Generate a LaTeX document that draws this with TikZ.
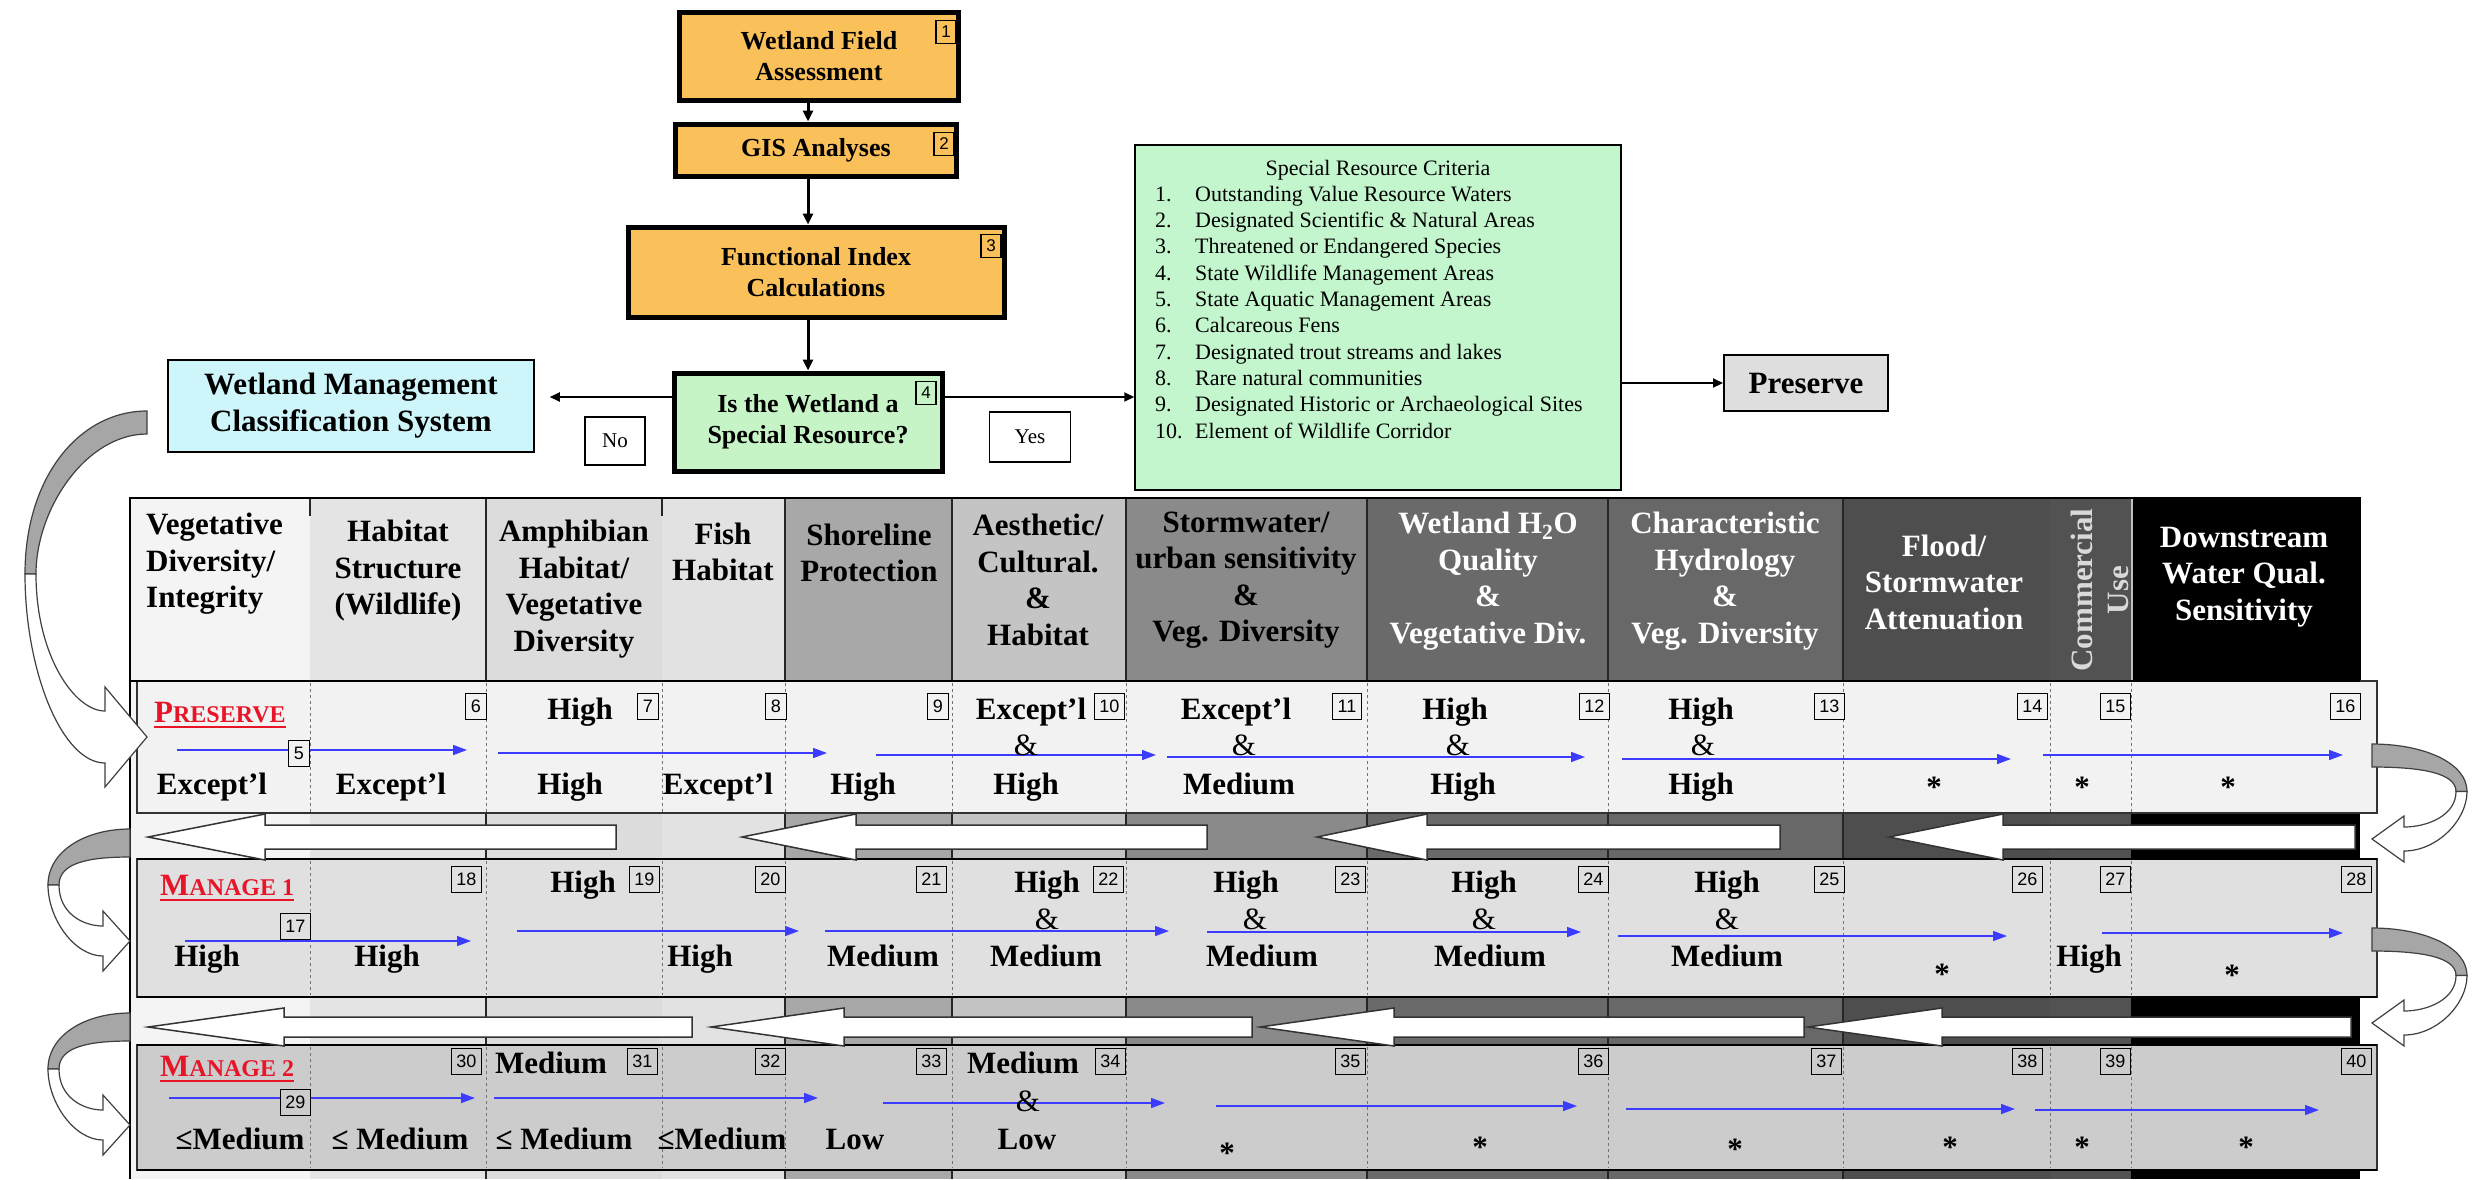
\documentclass[tikz,border=0pt]{standalone}
\usepackage{fontspec}
\setmainfont{Liberation Serif}
\newfontfamily\numfont{Liberation Sans}
\usetikzlibrary{arrows.meta}
\definecolor{orng}{RGB}{250,192,90}
\definecolor{gbox}{RGB}{198,244,198}
\definecolor{critc}{RGB}{196,246,206}
\definecolor{cyanb}{RGB}{206,246,250}
\definecolor{presb}{RGB}{222,222,222}
\definecolor{redt}{RGB}{232,20,40}
\definecolor{bluea}{RGB}{60,60,255}
\definecolor{rowp}{RGB}{242,242,242}
\definecolor{rowa}{RGB}{224,224,224}
\definecolor{rowb}{RGB}{204,204,204}
\tikzset{
 obox/.style={draw=black, line width=5pt, fill=orng, align=center, inner sep=0pt, font=\fontsize{26}{31}\selectfont\bfseries},
 markbox/.style={draw=black, line width=1.5pt, inner sep=0pt, minimum width=20pt, minimum height=23pt, font=\numfont\fontsize{17}{17}\selectfont},
 thinbox/.style={draw=black, line width=1.5pt, align=center, inner sep=0pt},
 conn/.style={line width=3pt, -{Triangle[length=11pt,width=10pt]}},
 conn2/.style={line width=2pt, -{Triangle[length=10pt,width=9pt]}},
 hdr/.style={align=center, inner sep=0pt, font=\fontsize{31}{36.5}\selectfont\bfseries},
 val/.style={inner sep=0pt, text height=21pt, text depth=7pt, font=\fontsize{31}{36}\selectfont\bfseries},
 numbox/.style={draw=black, line width=1.3pt, inner xsep=5pt, inner ysep=0pt, minimum height=26pt, minimum width=21pt, font=\numfont\fontsize{18}{18}\selectfont, anchor=north east},
 blarr/.style={draw=bluea, line width=1.5pt, -{Triangle[length=14pt,width=10pt]}},
 rowdiv/.style={draw=black!55, line width=0.8pt, dashed},
 coldiv/.style={draw=black!85, line width=1.5pt},
 critt/.style={inner sep=0pt, text height=15pt, text depth=5pt, font=\fontsize{22}{22}\selectfont},
 redlab/.style={anchor=base west, inner sep=0pt, text=redt, font=\bfseries}
}
% curved arrow: #1 x, #2 y (tail top), #3 xscale, #4 tail thickness, #5 bulge, #6 tip dy, #7 head half, #8 head length, #9 shaft half
\newcommand{\mycarrow}[9]{%
\begin{scope}[shift={(#1,#2)},xscale=#3]
\filldraw[fill=black!35, draw=black!75, line width=1.2pt]
 (0,0) .. controls ({-0.55*#5},0) and ({-#5},{0.2*#6}) .. ({-#5},{0.5*#6})
 -- ({-#5+11},{0.5*#6}) .. controls ({-#5+11},{0.3*#6}) and ({-0.5*#5},{#4}) .. (0,{#4}) -- cycle;
\filldraw[fill=white, draw=black!75, line width=1.2pt]
 ({-#5},{0.5*#6}) .. controls ({-#5},{0.8*#6}) and ({-#8-0.35*#5},{#6+#9}) .. ({-#8},{#6+#9})
 -- ({-#8},{#6+#7}) -- (0,{#6}) -- ({-#8},{#6-#7}) -- ({-#8},{#6-#9})
 .. controls ({-#8-0.25*#5},{#6-#9}) and ({-#5+11},{0.75*#6}) .. ({-#5+11},{0.5*#6}) -- cycle;
\end{scope}}
% block arrow pointing left: #1 tip x, #2 head base x, #3 end x, #4 mid y, #5 head half, #6 body half
\newcommand{\myblarrow}[6]{%
\filldraw[fill=white, draw=black!80, line width=1.5pt] (#1,#4) -- (#2,{#4-#5}) -- (#2,{#4-#6}) -- (#3,{#4-#6}) -- (#3,{#4+#6}) -- (#2,{#4+#6}) -- (#2,{#4+#5}) -- cycle;}
\begin{document}
\begin{tikzpicture}[x=1pt,y=-1pt]
\useasboundingbox[fill=white] (0,0) rectangle (2472,1179);

% ---------- flow chart ----------
\node[obox, minimum width=279pt, minimum height=88pt] (b1) at (819,56) {Wetland Field\\Assessment};
\node[obox, minimum width=281pt, minimum height=52pt] (b2) at (816,150) {GIS Analyses};
\node[obox, minimum width=376pt, minimum height=90pt] (b3) at (816,272) {Functional Index\\Calculations};
\node[obox, fill=gbox, minimum width=268pt, minimum height=98pt] (b4) at (808,422) {Is the Wetland a\\Special Resource?};
\node[markbox] (m1) at (946,32) {1};
\node[markbox] (m2) at (944,144) {2};
\node[markbox] (m3) at (991,246) {3};
\node[markbox] (m4) at (926,393) {4};
\node[thinbox, fill=cyanb, minimum width=366pt, minimum height=92pt, font=\fontsize{31}{37}\selectfont\bfseries] (wmcs) at (351,406) {Wetland Management\\Classification System};
\node[thinbox, fill=white, minimum width=60pt, minimum height=48pt, font=\fontsize{21}{21}\selectfont] (no) at (615,441) {No};
\node[thinbox, fill=white, minimum width=81pt, minimum height=50pt, font=\fontsize{21}{21}\selectfont] (yes) at (1030,437) {Yes};
\node[thinbox, fill=critc, minimum width=486pt, minimum height=345pt] (crit) at (1378,317.5) {};
\node[thinbox, fill=presb, line width=2pt, minimum width=164pt, minimum height=56pt, font=\fontsize{31}{31}\selectfont\bfseries] (pres) at (1806,383) {Preserve};

\node[critt] (ct) at (1378,170) {Special Resource Criteria};
\foreach \num/\t [count=\i] in {1/Outstanding Value Resource Waters,2/Designated Scientific \& Natural Areas,3/Threatened or Endangered Species,4/State Wildlife Management Areas,5/State Aquatic Management Areas,6/Calcareous Fens,7/Designated trout streams and lakes,8/Rare natural communities,9/Designated Historic or Archaeological Sites,10/Element of Wildlife Corridor}{
 \node[critt, anchor=west] (cn\i) at (1155,{170+26.3*\i}) {\num.};
 \node[critt, anchor=west] (ci\i) at (1195,{170+26.3*\i}) {\t};
}

\draw[conn] (b1.south -| b4) -- (b2.north -| b4);
\draw[conn] (b2.south -| b4) -- (b3.north -| b4);
\draw[conn] (b3.south -| b4) -- (b4.north);
\coordinate (lv) at ([yshift=25pt]b4.west);
\coordinate (rv) at ([yshift=25pt]b4.east);
\draw[conn2, shorten >=15pt] (lv) -- (lv -| wmcs.east);
\draw[conn2] (rv) -- (rv -| crit.west);
\draw[conn2] (pres.west -| crit.east) -- (pres.west);

% ---------- table: column backgrounds ----------
\foreach \xa/\xb/\c in {130/310/244,310/486/228,486/662/220,662/785/226,785/952/168,952/1126/196,1126/1367/138,1367/1608/106,1608/1843/104,1843/2050/78,2050/2131/82,2131/2360/0}{
 \definecolor{cc}{RGB}{\c,\c,\c}
 \fill[cc] (\xa,498) rectangle (\xb,1179);
}
\foreach \x in {486,785,952,1126,1367,1608,1843}{ \draw[coldiv] (\x,498) -- (\x,1179); }
\foreach \x in {310,662}{ \draw[coldiv] (\x,498) -- (\x,516); }
\draw[black!25, line width=1.5pt] (2132,498) -- (2132,681);
\draw[line width=2.5pt] (130,498) rectangle (2360,681);
\draw[line width=2pt] (130,681) -- (130,1179);

% header texts
\node[hdr, align=left, anchor=west] (h1) at (146,564) {Vegetative\\Diversity/\\Integrity};
\node[hdr] (h2) at (398,571) {Habitat\\Structure\\(Wildlife)};
\node[hdr] (h3) at (574,589) {Amphibian\\Habitat/\\Vegetative\\Diversity};
\node[hdr] (h4) at (723,552) {Fish\\Habitat};
\node[hdr] (h5) at (869,553) {Shoreline\\Protection};
\node[hdr] (h6) at (1038,580) {Aesthetic/\\Cultural.\\\&\\Habitat};
\node[hdr] (h7) at (1246,580) {Stormwater/\\urban sensitivity\\\&\\Veg. Diversity};
\node[hdr, text=white] (h8) at (1488,581) {Wetland H\textsubscript{2}O\\Quality\\\&\\Vegetative Div.};
\node[hdr, text=white] (h9) at (1725,581) {Characteristic\\Hydrology\\\&\\Veg. Diversity};
\node[hdr, text=white] (h10) at (1944,582) {Flood/\\Stormwater\\Attenuation};
\node[hdr, text=black!15, rotate=90] (h11) at (2100,590) {Commercial\\Use};
\node[hdr, text=white] (h12) at (2244,577) {Downstream\\Water Qual.\\Sensitivity};

% ---------- rows ----------
\filldraw[fill=rowp, draw=black!80, line width=1.2pt] (137,681) rectangle (2377,813);
\filldraw[fill=rowa, draw=black!80, line width=1.2pt] (137,859) rectangle (2377,997);
\filldraw[fill=rowb, draw=black!80, line width=1.2pt] (137,1045) rectangle (2377,1170);
\draw[line width=2.5pt] (130,681) -- (2360,681);
\draw[line width=2.5pt] (137,859) -- (2377,859);
\draw[line width=2.5pt] (137,997) -- (2377,997);
\draw[line width=2.5pt] (137,1045) -- (2377,1045);
\draw[line width=2.5pt] (137,1170) -- (2377,1170);
\foreach \x in {310,486,662,785,952,1126,1367,1608,1843,2050,2131}{
 \draw[rowdiv] (\x,683) -- (\x,812);
 \draw[rowdiv] (\x,861) -- (\x,995);
 \draw[rowdiv] (\x,1047) -- (\x,1168);
}

% block arrows in bands
\myblarrow{148}{265}{616}{837}{23}{12}
\myblarrow{742}{856}{1207}{837}{23}{12}
\myblarrow{1317}{1427}{1780}{837}{23}{12}
\myblarrow{1889}{2003}{2355}{837}{23}{12}
\myblarrow{148}{284}{692}{1027}{19}{10}
\myblarrow{711}{844}{1252}{1027}{19}{10}
\myblarrow{1260}{1394}{1804}{1027}{19}{10}
\myblarrow{1808}{1942}{2351}{1027}{19}{10}

% row labels
\node[redlab] (lp) at (154,722) {\fontsize{31}{31}\selectfont P\fontsize{24}{24}\selectfont RESERVE};
\draw[redt, line width=2pt] ([yshift=-5pt]lp.base west) -- ([yshift=-5pt]lp.base east);
\node[redlab] (lm1) at (160,895) {\fontsize{31}{31}\selectfont M\fontsize{24}{24}\selectfont ANAGE 1};
\draw[redt, line width=2pt] ([yshift=-5pt]lm1.base west) -- ([yshift=-5pt]lm1.base east);
\node[redlab] (lm2) at (160,1076) {\fontsize{31}{31}\selectfont M\fontsize{24}{24}\selectfont ANAGE 2};
\draw[redt, line width=2pt] ([yshift=-5pt]lm2.base west) -- ([yshift=-5pt]lm2.base east);

% blue arrows
\foreach \n/\a/\b/\y in {p1/177/467/750,p2/498/827/753,p3/876/1156/755,p4/1167/1585/757,p5/1622/2011/759,p6/2043/2343/755,
 q1/185/471/941,q2/517/799/931,q3/825/1169/931,q4/1207/1581/932,q5/1618/2007/936,q6/2102/2343/933,
 r1/169/475/1098,r2/494/818/1098,r3/883/1165/1103,r4/1216/1577/1106,r5/1626/2015/1109,r6/2035/2319/1110}{
 \coordinate (\n-s) at (\a,\y);
 \coordinate (\n-e) at (\b,\y);
 \draw[blarr] (\n-s) -- (\n-e);
}

% values
\foreach \t/\x/\y [count=\i] in {Except’l/212/787,Except’l/391/787,High/580/712,High/570/787,Except’l/718/787,High/863/787,Except’l/1031/712,{\mdseries\&}/1026/748,High/1026/787,Except’l/1236/712,{\mdseries\&}/1244/748,Medium/1239/787,High/1455/712,{\mdseries\&}/1458/748,High/1463/787,High/1701/712,{\mdseries\&}/1703/748,High/1701/787,*/1934/790,*/2082/790,*/2228/790}{
 \node[val] (pv\i) at (\x,\y) {\t};
}
\foreach \t/\x/\y [count=\i] in {High/207/959,High/387/959,High/583/885,High/700/959,Medium/883/959,High/1047/885,{\mdseries\&}/1047/922,Medium/1046/959,High/1246/885,{\mdseries\&}/1255/922,Medium/1262/959,High/1484/885,{\mdseries\&}/1484/922,Medium/1490/959,High/1727/885,{\mdseries\&}/1727/922,Medium/1727/959,*/1942/977,High/2089/959,*/2232/978}{
 \node[val] (mv\i) at (\x,\y) {\t};
}
\foreach \t/\x/\y [count=\i] in {≤Medium/240/1142,≤ Medium/400/1142,Medium/551/1066,≤ Medium/564/1142,≤Medium/722/1142,Low/855/1142,Medium/1023/1066,{\mdseries\&}/1028/1104,Low/1027/1142,*/1227/1156,*/1480/1150,*/1735/1152,*/1950/1150,*/2082/1150,*/2246/1150}{
 \node[val] (nv\i) at (\x,\y) {\t};
}

% number boxes
\node[numbox, fill=rowp] (n5) at (310,740) {5};
\node[numbox, fill=rowa] (n17) at (311,913) {17};
\node[numbox, fill=rowb] (n29) at (311,1089) {29};
\foreach \num/\x in {6/487,7/659,8/787,9/949,10/1125,11/1362,12/1610,13/1845,14/2048,15/2131,16/2361}{
 \node[numbox, fill=rowp] (n\num) at (\x,693) {\num};
}
\foreach \num/\x in {18/482,19/660,20/786,21/947,22/1124,23/1366,24/1609,25/1845,26/2043,27/2131,28/2372}{
 \node[numbox, fill=rowa] (n\num) at (\x,866) {\num};
}
\foreach \num/\x in {30/482,31/658,32/786,33/947,34/1126,35/1366,36/1609,37/1842,38/2043,39/2131,40/2372}{
 \node[numbox, fill=rowb] (n\num) at (\x,1048) {\num};
}

% curved arrows
\mycarrow{147}{411}{1}{23}{122}{326}{50}{42}{26}
\mycarrow{130}{829}{1}{28}{82}{112}{30}{27}{15}
\mycarrow{130}{1013}{1}{28}{82}{112}{30}{27}{15}
\mycarrow{2372}{744}{-1}{23}{95}{95}{23}{32}{12}
\mycarrow{2372}{928}{-1}{23}{95}{95}{23}{32}{12}
\end{tikzpicture}
\end{document}
